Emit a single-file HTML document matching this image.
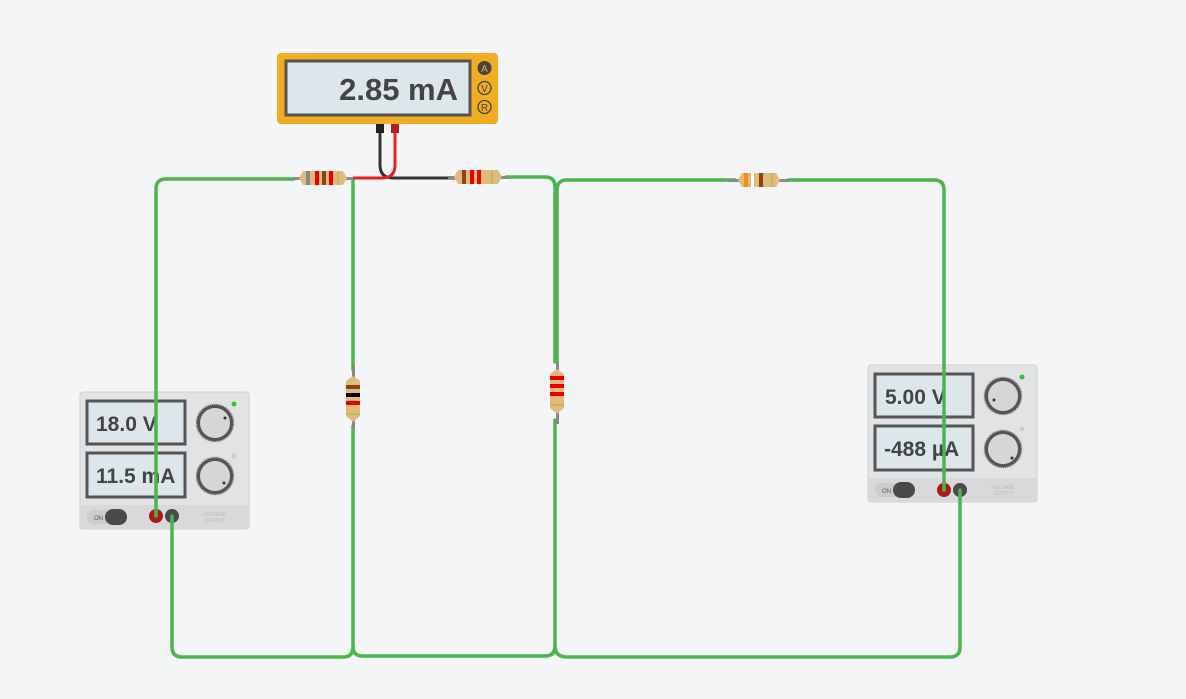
<!DOCTYPE html>
<html><head><meta charset="utf-8"><style>
html,body{margin:0;padding:0;background:#f3f5f7;}
svg{display:block;font-family:"Liberation Sans",Arial,sans-serif;}
</style></head><body>
<svg width="1186" height="699" viewBox="0 0 1186 699">
<defs>
<g id="knob">
<circle r="19" fill="#555" />
<circle r="19" fill="none" stroke="#ccc" stroke-width="2" stroke-dasharray="1 1.3"/>
<circle r="15" fill="#d4d6d8"/>
</g>
</defs>
<rect width="1186" height="699" fill="#f3f5f7"/>
<g fill="none" stroke="#4ab54a" stroke-width="3.5" stroke-linecap="round">
<path d="M293 179 H166 Q156 179 156 189 V516"/>
<path d="M172 516 V647 Q172 657 182 657 H343 Q353 657 353 647 V426"/>
<path d="M353 370 V180"/>
<path d="M353 647 Q353 656 363 656 H545 Q555 656 555 646 V420"/>
<path d="M557 362 V190 Q557 180 567 180 H735"/>
<path d="M506 177 H545 Q555 177 555 187 V362"/>
<path d="M555 646 Q555 657 567 657 H950 Q960 657 960 647 V490"/>
<path d="M788 180 H934 Q944 180 944 190 V490"/>
</g>
<path d="M380 130 V165 Q380 178 393 178 H455" fill="none" stroke="#333" stroke-width="3"/>
<path d="M395 130 V165 Q395 178 382 178 H353" fill="none" stroke="#e02424" stroke-width="3"/>
<rect x="376" y="124" width="8" height="9" fill="#222"/>
<rect x="391" y="124" width="8" height="9" fill="#b02020"/>
<rect x="277" y="53" width="221" height="71" rx="4" fill="#f0ad1f"/>
<rect x="286" y="61" width="184" height="54" fill="#dce6eb" stroke="#555" stroke-width="3"/>
<text x="458" y="100" text-anchor="end" font-size="31" font-weight="bold" fill="#444">2.85 mA</text>
<circle cx="484.5" cy="68" r="7" fill="#444"/><text x="484.5" y="72" text-anchor="middle" font-size="10" fill="#f0ad1f">A</text>
<circle cx="484.5" cy="88" r="6.5" fill="none" stroke="#444" stroke-width="1.3"/><text x="484.5" y="92" text-anchor="middle" font-size="10" fill="#444">V</text>
<circle cx="484.5" cy="107" r="6.5" fill="none" stroke="#444" stroke-width="1.3"/><text x="484.5" y="111" text-anchor="middle" font-size="10" fill="#444">R</text>
<g>
<rect x="293" y="177" width="60" height="3" fill="#888"/>
<path d="M303 171 h40 l4 7 l-4 7 h-40 l-4 -7z" fill="#dfbb7f"/>
<rect x="306" y="171" width="4" height="14" fill="#888"/><rect x="315" y="171" width="4" height="14" fill="#e00"/><rect x="322" y="171" width="4" height="14" fill="#8b4513"/><rect x="329" y="171" width="4" height="14" fill="#e00"/><rect x="337" y="171" width="2" height="14" fill="#c9b84a"/>
</g>
<g>
<rect x="448" y="176" width="60" height="3" fill="#888"/>
<path d="M458 170 h40 l4 7 l-4 7 h-40 l-4 -7z" fill="#dfbb7f"/>
<rect x="462" y="170" width="4" height="14" fill="#8b4513"/><rect x="470" y="170" width="4" height="14" fill="#e00"/><rect x="477" y="170" width="4" height="14" fill="#e00"/><rect x="491" y="170" width="2" height="14" fill="#c9b84a"/>
</g>
<g>
<rect x="727" y="179" width="62" height="3" fill="#888"/>
<path d="M742 173 h34 l4 7 l-4 7 h-34 l-4 -7z" fill="#dfbb7f"/>
<rect x="744" y="173" width="4" height="14" fill="#ff8c00"/><rect x="751" y="173" width="3" height="14" fill="#fff"/><rect x="759" y="173" width="4" height="14" fill="#8b4513"/><rect x="771" y="173" width="2" height="14" fill="#c9b84a"/>
</g>
<g>
<rect x="352" y="366" width="3" height="64" fill="#888"/>
<path d="M346 381 v35 l7 6 l7 -6 v-35 l-7 -5z" fill="#dfbb7f"/>
<rect x="346" y="385" width="14" height="4" fill="#8b4513"/><rect x="346" y="393" width="14" height="4" fill="#000"/><rect x="346" y="401" width="14" height="4" fill="#e00"/><rect x="346" y="413" width="14" height="2" fill="#c9b84a"/>
</g>
<g>
<rect x="556" y="362" width="3" height="62" fill="#888"/>
<path d="M550 374 v34 l7 6 l7 -6 v-34 l-7 -5z" fill="#dfbb7f"/>
<rect x="550" y="376" width="14" height="4" fill="#e00"/><rect x="550" y="384" width="14" height="4" fill="#e00"/><rect x="550" y="392" width="14" height="4" fill="#e00"/><rect x="550" y="404" width="14" height="2" fill="#c9b84a"/>
</g>
<g transform="translate(80,392)">
<rect width="169" height="137" rx="3" fill="#e2e3e4" stroke="#d0d0d0"/>
<rect y="113" width="169" height="24" fill="#d8d9da"/>
<rect x="7" y="9" width="98" height="43" fill="#dce6eb" stroke="#555" stroke-width="3"/>
<text x="16" y="39" font-size="21" font-weight="bold" fill="#444">18.0 V</text>
<rect x="7" y="61" width="98" height="44" fill="#dce6eb" stroke="#555" stroke-width="3"/>
<text x="16" y="91" font-size="21" font-weight="bold" fill="#444">11.5 mA</text>
<use href="#knob" x="135" y="31"/><circle cx="145" cy="26" r="1.5" fill="#333"/>
<use href="#knob" x="135" y="84"/><circle cx="144" cy="91" r="1.5" fill="#333"/>
<circle cx="154" cy="12" r="2.5" fill="#2c2"/><circle cx="154" cy="64" r="2.5" fill="#ccc"/>
<rect x="7" y="118" width="40" height="14" rx="7" fill="#ccc"/><rect x="25" y="117" width="22" height="16" rx="8" fill="#4a4a4a"/>
<text x="14" y="128" font-size="6" fill="#555">ON</text>
<text x="135" y="124" font-size="5" fill="#bbb" text-anchor="middle">VOLTAGE</text><text x="135" y="130" font-size="5" fill="#bbb" text-anchor="middle">SUPPLY</text>
<circle cx="76" cy="124" r="7" fill="#b01818"/><circle cx="92" cy="124" r="7" fill="#4a4a4a"/>
</g>
<g transform="translate(868,365)">
<rect width="169" height="137" rx="3" fill="#e2e3e4" stroke="#d0d0d0"/>
<rect y="113" width="169" height="24" fill="#d8d9da"/>
<rect x="7" y="9" width="98" height="43" fill="#dce6eb" stroke="#555" stroke-width="3"/>
<text x="17" y="39" font-size="21" font-weight="bold" fill="#444">5.00 V</text>
<rect x="7" y="61" width="98" height="44" fill="#dce6eb" stroke="#555" stroke-width="3"/>
<text x="16" y="91" font-size="21" font-weight="bold" fill="#444">-488 µA</text>
<use href="#knob" x="135" y="31"/><circle cx="126" cy="35" r="1.5" fill="#333"/>
<use href="#knob" x="135" y="84"/><circle cx="144" cy="93" r="1.5" fill="#333"/>
<circle cx="154" cy="12" r="2.5" fill="#2c2"/><circle cx="154" cy="64" r="2.5" fill="#ccc"/>
<rect x="7" y="118" width="40" height="14" rx="7" fill="#ccc"/><rect x="25" y="117" width="22" height="16" rx="8" fill="#4a4a4a"/>
<text x="14" y="128" font-size="6" fill="#555">ON</text>
<text x="135" y="124" font-size="5" fill="#bbb" text-anchor="middle">VOLTAGE</text><text x="135" y="130" font-size="5" fill="#bbb" text-anchor="middle">SUPPLY</text>
<circle cx="76" cy="125" r="7" fill="#b01818"/><circle cx="92" cy="125" r="7" fill="#4a4a4a"/>
</g>
<g fill="none" stroke="#4ab54a" stroke-width="3.5" stroke-linecap="round">
<path d="M156 392 V516"/><path d="M172 516 V529"/>
<path d="M944 365 V490"/><path d="M960 490 V502"/>
</g>
</svg>
</body></html>
